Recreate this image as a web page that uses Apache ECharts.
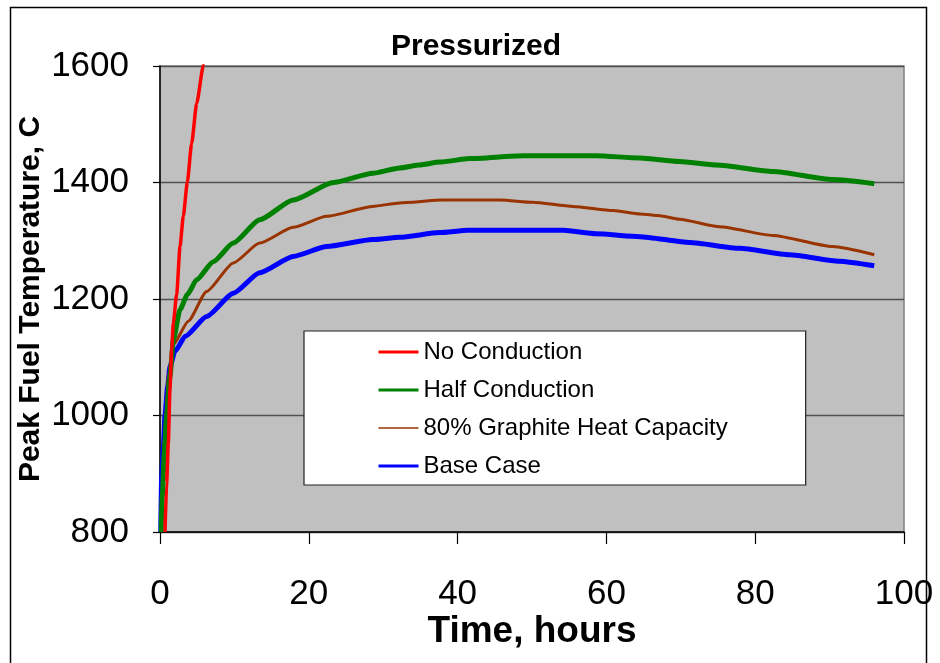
<!DOCTYPE html>
<html>
<head>
<meta charset="utf-8">
<script src="https://cdn.jsdelivr.net/npm/echarts@6/dist/echarts.min.js"></script>
<style>
html,body{margin:0;padding:0;background:#fff;}
#chart{width:940px;height:663px;}
</style>
</head>
<body>
<div id="chart"></div>
<script>
const chartTitle = "Pressurized";
const xAxisTitle = "Time, hours";
const yAxisTitle = "Peak Fuel Temperature, C";
const seriesNames = ["No Conduction", "Half Conduction", "80% Graphite Heat Capacity", "Base Case"];

// [time (hours), peak fuel temperature (C)]
const noConduction = [[0.67,800],[0.9,885],[1.12,953],[1.34,1045],[1.57,1113],[1.79,1159],[2.24,1208],[2.69,1290],[3.13,1342],[3.67,1400],[4.25,1467],[4.93,1536],[5.82,1600],[6.1,1640]];
const halfConduction = [[0.15,800],[0.3,860],[0.6,940],[0.9,1000],[1.34,1067],[1.8,1130],[2.69,1182],[3.7,1208],[4.92,1233],[7.16,1264],[9.85,1296],[13.4,1336],[17.9,1370],[23.3,1400],[28.6,1416],[32.2,1425],[34.9,1430],[37.6,1435],[41.6,1441],[48.8,1446],[58.6,1446],[64.5,1442],[69.8,1436],[74.8,1430],[82.4,1419],[90.4,1405],[96,1398]];
const graphite80 = [[0.1,800],[0.3,880],[0.6,960],[0.8,1005],[1.12,1067],[1.8,1122],[3.8,1162],[6.27,1213],[9.85,1262],[13.4,1296],[17.9,1323],[22.4,1342],[28.6,1359],[32.2,1365],[38,1370],[45.8,1370],[50.1,1366],[55.5,1359],[60.9,1352],[64.5,1346],[67.2,1343],[69.8,1337],[75.2,1324],[82.4,1309],[90.4,1290],[96,1276]];
const baseCase = [[0.1,800],[0.22,896],[0.45,947],[0.67,1001],[1.03,1050],[1.34,1084],[2.0,1110],[3.4,1136],[6.27,1170],[9.85,1210],[13.4,1245],[17.9,1273],[22.4,1290],[28.6,1302],[32.2,1306],[37.6,1314],[41.4,1318],[54.2,1318],[58.6,1312],[64.5,1307],[71.2,1297],[77.9,1287],[84.6,1276],[91.3,1265],[96,1257]];

const xMin = 0, xMax = 100, xStep = 20;
const yMin = 800, yMax = 1600, yStep = 200;

const colors = ["#FF0000", "#008000", "#993300", "#0000FF"];
const widths = [3.5, 5, 3, 5];
const legendWidths = [3, 3, 1.5, 3];
const dataSets = [noConduction, halfConduction, graphite80, baseCase];

const chart = echarts.init(document.getElementById('chart'), null, {renderer: 'canvas'});
const FONT = '"Liberation Sans", Arial, sans-serif';

const option = {
  animation: false,
  backgroundColor: '#ffffff',
  title: {
    text: chartTitle,
    left: 386, top: 27,
    textStyle: {fontFamily: FONT, fontSize: 30, fontWeight: 'bold', color: '#000'}
  },
  graphic: [{
    type: 'rect', left: 8, top: 5, z: -1,
    shape: {width: 916, height: 670},
    style: {fill: 'none', stroke: '#000', lineWidth: 1.5}
  }],
  grid: {
    left: 160, top: 66, right: 36, bottom: 131,
    containLabel: false, outerBoundsMode: 'none',
    show: true, backgroundColor: '#C0C0C0', borderColor: '#808080', borderWidth: 1.5
  },
  legend: {
    orient: 'vertical',
    left: 304, top: 331,
    backgroundColor: '#ffffff',
    borderColor: '#222', borderWidth: 1.2,
    padding: [9, 78, 7, 73],
    itemWidth: 40, itemHeight: 14, itemGap: 14,
    textStyle: {fontFamily: FONT, fontSize: 24, color: '#000', lineHeight: 24},
    data: seriesNames.map((n, i) => ({name: n, itemStyle: {opacity: 0, borderWidth: 0}, lineStyle: {color: colors[i], width: legendWidths[i]}}))
  },
  xAxis: {
    type: 'value', min: xMin, max: xMax, interval: xStep,
    name: xAxisTitle, nameLocation: 'middle', nameGap: 81, nameMoveOverlap: false,
    nameTextStyle: {fontFamily: FONT, fontSize: 37, fontWeight: 'bold', color: '#000'},
    axisLine: {show: true, lineStyle: {color: '#000', width: 1.5}},
    axisTick: {show: true, length: 12, lineStyle: {color: '#000', width: 1.2}},
    axisLabel: {fontFamily: FONT, fontSize: 35, color: '#000', margin: 45},
    splitLine: {show: false}
  },
  yAxis: {
    type: 'value', min: yMin, max: yMax, interval: yStep,
    name: yAxisTitle, nameLocation: 'middle', nameGap: 114, nameMoveOverlap: false,
    nameTextStyle: {fontFamily: FONT, fontSize: 30, fontWeight: 'bold', color: '#000'},
    axisLine: {show: true, lineStyle: {color: '#000', width: 1.5}},
    axisTick: {show: true, length: 7, lineStyle: {color: '#000', width: 1.2}},
    axisLabel: {fontFamily: FONT, fontSize: 35, color: '#000', margin: 31, formatter: v => String(v)},
    splitLine: {show: true, lineStyle: {color: '#505050', width: 1.3}}
  },
  series: seriesNames.map((n, i) => ({
    name: n, type: 'line', data: dataSets[i],
    showSymbol: false, symbol: 'none', smooth: 0.2, smoothMonotone: 'x', clip: true,
    lineStyle: {color: colors[i], width: widths[i]},
    itemStyle: {color: colors[i]},
    z: 10 - i
  }))
};
chart.setOption(option);
</script>
</body>
</html>
